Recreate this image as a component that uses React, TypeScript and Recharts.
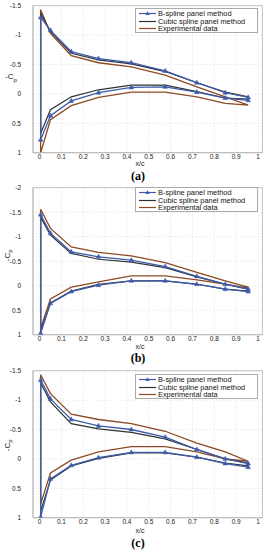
import React from 'react'
import { LineChart, Line, XAxis, YAxis, CartesianGrid, ReferenceArea } from 'recharts'

// chordwise stations (x/c), shared by every series
const XC = [0.005, 0.05, 0.145, 0.27, 0.42, 0.575, 0.72, 0.85, 0.955]
const X_TICKS = [0, 0.1, 0.2, 0.3, 0.4, 0.5, 0.6, 0.7, 0.8, 0.9, 1]

// (a)
const A_BS_UP = [-1.30, -1.08, -0.72, -0.60, -0.53, -0.39, -0.19, -0.02, 0.06]
const A_BS_LO = [0.78, 0.37, 0.12, -0.02, -0.11, -0.12, -0.03, 0.07, 0.11]
const A_CS_UP = [-1.37, -1.06, -0.69, -0.58, -0.51, -0.38, -0.19, -0.03, 0.05]
const A_CS_LO = [0.67, 0.27, 0.05, -0.07, -0.15, -0.15, -0.04, 0.07, 0.09]
const A_EX_UP = [-1.43, -1.03, -0.65, -0.53, -0.46, -0.32, -0.12, 0.05, 0.19]
const A_EX_LO = [1.0, 0.44, 0.20, 0.06, -0.03, -0.03, 0.05, 0.16, 0.19]
const A_Y_TICKS = [-1.5, -1, -0.5, 0, 0.5, 1]

// (b)
const B_BS_UP = [-1.45, -1.07, -0.69, -0.59, -0.52, -0.39, -0.19, -0.03, 0.07]
const B_BS_LO = [0.97, 0.36, 0.12, -0.01, -0.10, -0.10, -0.03, 0.07, 0.12]
const B_CS_UP = [-1.40, -1.03, -0.66, -0.54, -0.48, -0.37, -0.18, -0.03, 0.07]
const B_CS_LO = [0.94, 0.35, 0.11, -0.03, -0.10, -0.10, -0.03, 0.07, 0.11]
const B_EX_UP = [-1.56, -1.17, -0.79, -0.68, -0.61, -0.47, -0.27, -0.10, 0.03]
const B_EX_LO = [0.87, 0.27, 0.03, -0.08, -0.20, -0.20, -0.12, -0.03, 0.05]
const B_Y_TICKS = [-2, -1.5, -1, -0.5, 0, 0.5, 1]

// (c)
const C_BS_UP = [-1.34, -1.02, -0.67, -0.56, -0.50, -0.37, -0.16, 0.0, 0.08]
const C_BS_LO = [0.99, 0.34, 0.11, -0.02, -0.11, -0.11, -0.03, 0.08, 0.14]
const C_CS_UP = [-1.29, -0.97, -0.60, -0.51, -0.45, -0.34, -0.16, 0.0, 0.07]
const C_CS_LO = [0.89, 0.36, 0.12, -0.01, -0.10, -0.10, -0.03, 0.07, 0.12]
const C_EX_UP = [-1.43, -1.11, -0.76, -0.67, -0.60, -0.47, -0.27, -0.12, 0.04]
const C_EX_LO = [0.77, 0.24, 0.02, -0.12, -0.21, -0.21, -0.12, 0.0, 0.04]
const C_Y_TICKS = [-1.5, -1, -0.5, 0, 0.5, 1]

const BLUE = '#3f5bab'
const DARK = '#2e3432'
const BROWN = '#8c4a25'
const FONT = '"Liberation Sans", Arial, sans-serif'

// lower surface TE -> LE, then upper surface LE -> TE
function loop(upper: number[], lower: number[]) {
  const lo = XC.map((x, i) => ({ x, y: lower[i] })).reverse()
  const up = XC.map((x, i) => ({ x, y: upper[i] }))
  return [...lo, ...up]
}

const Tri = (props: any) => {
  const { cx, cy, index } = props
  if (cx == null || cy == null) return <g key={index} />
  return (
    <path key={index} d={`M${cx},${cy - 2.6} L${cx + 2.3},${cy + 1.5} L${cx - 2.3},${cy + 1.5} Z`}
      fill={BLUE} stroke={BLUE} strokeWidth={0.5} />
  )
}

const legendRows = [
  { label: 'B-spline panel method', color: BLUE, marker: true },
  { label: 'Cubic spline panel method', color: DARK, marker: false },
  { label: 'Experimental data', color: BROWN, marker: false },
]

const LegendBox = ({ top }: { top: number }) => (
  <div style={{
    position: 'absolute', top, left: 135,
    width: 123, height: 25, boxSizing: 'border-box', border: '1px solid #aaa', background: '#fff',
    fontFamily: FONT, fontSize: 7.4, color: '#111', paddingTop: 1,
  }}>
    {legendRows.map(r => (
      <div key={r.label} style={{ display: 'flex', alignItems: 'center', height: 7.6 }}>
        <svg width={19} height={7} style={{ marginLeft: 2 }}>
          <line x1={1} y1={3.5} x2={18} y2={3.5} stroke={r.color} strokeWidth={1.2} />
          {r.marker && <path d="M9.5,1.2 L11.6,5 L7.4,5 Z" fill={BLUE} />}
        </svg>
        <span style={{ marginLeft: 1, whiteSpace: 'nowrap', lineHeight: '7px' }}>{r.label}</span>
      </div>
    ))}
  </div>
)

type PanelProps = {
  top: number
  yTicks: number[]
  bs: [number[], number[]]
  cs: [number[], number[]]
  ex: [number[], number[]]
}

function Panel({ top, yTicks, bs, cs, ex }: PanelProps) {
  const yMin = yTicks[0]
  const yMax = yTicks[yTicks.length - 1]
  const tickStyle = { fontSize: 6.5, fill: '#222', fontFamily: FONT }
  return (
    <div style={{ position: 'absolute', top, left: 0 }}>
      <LineChart width={266} height={162} margin={{ top: 5.7, right: 3.6, bottom: 0, left: 0 }}>
        <CartesianGrid stroke="#cfcfcf" strokeDasharray="1 2" strokeWidth={0.6} />
        <XAxis dataKey="x" type="number" domain={[-0.03, 1.02]} ticks={X_TICKS} allowDataOverflow
          height={9.3} tick={tickStyle} tickLine={false} tickSize={1} tickMargin={1}
          axisLine={{ stroke: '#b5b5b5', strokeWidth: 0.8 }} interval={0} />
        <YAxis dataKey="y" type="number" reversed domain={[yMin, yMax]} ticks={yTicks} allowDataOverflow
          width={33} tick={tickStyle} tickLine={false} tickMargin={6} interval={0}
          axisLine={{ stroke: '#b5b5b5', strokeWidth: 0.8 }} />
        <ReferenceArea x1={-0.03} x2={1.02} y1={yMin} y2={yMax} fill="none"
          stroke="#b5b5b5" strokeWidth={0.8} ifOverflow="visible" />
        <Line data={loop(ex[0], ex[1])} dataKey="y" stroke={BROWN} strokeWidth={1.3} dot={false}
          isAnimationActive={false} />
        <Line data={loop(cs[0], cs[1])} dataKey="y" stroke={DARK} strokeWidth={1.2} dot={false}
          isAnimationActive={false} />
        <Line data={loop(bs[0], bs[1])} dataKey="y" stroke={BLUE} strokeWidth={1.3} dot={Tri}
          isAnimationActive={false} />
      </LineChart>
    </div>
  )
}

const label: React.CSSProperties = { position: 'absolute', fontFamily: FONT, color: '#222' }
const caption: React.CSSProperties = {
  position: 'absolute', width: 40, textAlign: 'center', left: 118,
  fontFamily: '"Liberation Serif", "Times New Roman", serif', fontWeight: 'bold', fontSize: 12, lineHeight: '12px',
}

export default function App() {
  return (
    <div style={{ position: 'relative', width: 266, height: 550, background: '#fff' }}>
      <style>{'body{margin:0}'}</style>

      <Panel top={0} yTicks={A_Y_TICKS} bs={[A_BS_UP, A_BS_LO]} cs={[A_CS_UP, A_CS_LO]}
        ex={[A_EX_UP, A_EX_LO]} />
      <LegendBox top={8} />
      <div style={{ ...label, left: 5, top: 72, fontSize: 8 }}>-C<sub style={{ fontSize: 6 }}>p</sub></div>
      <div style={{ ...label, left: 130, top: 160, fontSize: 7, width: 20, textAlign: 'center' }}>x/c</div>
      <div style={{ ...caption, top: 170 }}>(a)</div>

      <Panel top={182} yTicks={B_Y_TICKS} bs={[B_BS_UP, B_BS_LO]} cs={[B_CS_UP, B_CS_LO]}
        ex={[B_EX_UP, B_EX_LO]} />
      <LegendBox top={187} />
      <div style={{ ...label, left: -2, top: 250, fontSize: 8, transform: 'rotate(-90deg)', width: 20, textAlign: 'center' }}>
        -C<sub style={{ fontSize: 6 }}>p</sub>
      </div>
      <div style={{ ...label, left: 130, top: 343, fontSize: 7, width: 20, textAlign: 'center' }}>x/c</div>
      <div style={{ ...caption, top: 352 }}>(b)</div>

      <Panel top={365} yTicks={C_Y_TICKS} bs={[C_BS_UP, C_BS_LO]} cs={[C_CS_UP, C_CS_LO]}
        ex={[C_EX_UP, C_EX_LO]} />
      <LegendBox top={374} />
      <div style={{ ...label, left: -2, top: 440, fontSize: 8, transform: 'rotate(-90deg)', width: 20, textAlign: 'center' }}>
        -C<sub style={{ fontSize: 6 }}>p</sub>
      </div>
      <div style={{ ...label, left: 130, top: 527, fontSize: 7, width: 20, textAlign: 'center' }}>x/c</div>
      <div style={{ ...caption, top: 537 }}>(c)</div>
    </div>
  )
}
